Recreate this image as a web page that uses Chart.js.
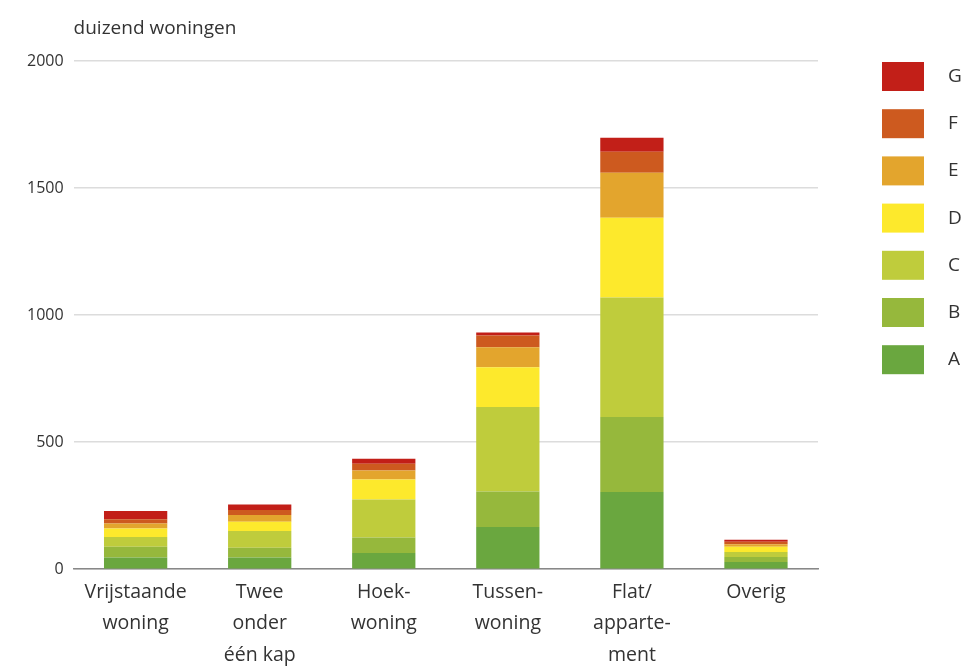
<!DOCTYPE html>
<html>
<head>
<meta charset="utf-8">
<script src="https://cdn.jsdelivr.net/npm/chart.js@4"></script>
<style>
  html, body { margin: 0; padding: 0; background: #fff; }
  #wrap { width: 967px; height: 669px; position: relative; }
</style>
</head>
<body>
<div id="wrap"><canvas id="c" width="967" height="669"></canvas></div>
<script>
const categories = [
  ["Vrijstaande", "woning"],
  ["Twee", "onder", "één kap"],
  ["Hoek-", "woning"],
  ["Tussen-", "woning"],
  ["Flat/", "apparte-", "ment"],
  ["Overig"]
];
const labelA = [46, 46, 64, 166, 304, 28];
const labelB = [42, 39, 61, 140, 295, 20];
const labelC = [39, 65, 149, 332, 470, 20];
const labelD = [33, 37, 79, 157, 314, 20];
const labelE = [20, 26, 36, 79, 177, 10];
const labelF = [17, 20, 26, 46, 83, 10];
const labelG = [32, 22, 20, 12, 55, 8];
const seriesNames = ["A", "B", "C", "D", "E", "F", "G"];
const seriesValues = [labelA, labelB, labelC, labelD, labelE, labelF, labelG];
const seriesColors = ["#6aa73f", "#96b83c", "#bfcc3c", "#fde92c", "#e3a52d", "#cd5a1f", "#c21f18"];
const yTicks = [0, 500, 1000, 1500, 2000];
const unitTitle = "duizend woningen";

const FONT = "'Open Sans', 'Noto Sans', sans-serif";

const extras = {
  id: 'extras',
  afterDraw(chart) {
    const ctx = chart.ctx;
    const area = chart.chartArea;
    ctx.save();
    ctx.fillStyle = '#333';
    ctx.font = "19px " + FONT;
    ctx.textAlign = 'left';
    ctx.textBaseline = 'middle';
    ctx.fillText(unitTitle, area.left, 29);
    const ds = chart.data.datasets;
    const bx = 882, bw = 42, bh = 29, step = 47.2, y0 = 62;
    ctx.font = "19px " + FONT;
    for (let i = 0; i < ds.length; i++) {
      const d = ds[ds.length - 1 - i];
      const y = y0 + i * step;
      ctx.fillStyle = d.backgroundColor;
      ctx.fillRect(bx, y, bw, bh);
      ctx.fillStyle = '#333';
      ctx.fillText(d.label, 948, y + bh / 2);
    }
    ctx.restore();
  }
};

new Chart(document.getElementById('c'), {
  type: 'bar',
  data: {
    labels: categories,
    datasets: seriesNames.map((n, i) => ({
      label: n,
      data: seriesValues[i],
      backgroundColor: seriesColors[i],
      borderWidth: 0,
      barPercentage: 0.51,
      categoryPercentage: 1.0
    }))
  },
  options: {
    responsive: false,
    animation: false,
    devicePixelRatio: 1,
    layout: { padding: { top: 61, right: 149, left: 17, bottom: -9 } },
    plugins: {
      legend: { display: false },
      tooltip: { enabled: false }
    },
    scales: {
      x: {
        stacked: true,
        grid: { display: false, drawTicks: false },
        border: { display: true, color: '#888', width: 1.5 },
        ticks: {
          color: '#333',
          font: { family: FONT, size: 19.5, lineHeight: 1.62 },
          padding: 7,
          maxRotation: 0,
          autoSkip: false
        }
      },
      y: {
        stacked: true,
        min: 0,
        max: 2000,
        afterBuildTicks(axis) { axis.ticks = yTicks.map(v => ({ value: v })); },
        grid: { color: '#dcdcdc', lineWidth: 1.5, drawTicks: false },
        border: { display: false },
        ticks: {
          color: '#333',
          font: { family: FONT, size: 16 },
          padding: 10,
          callback: (v) => String(v)
        }
      }
    }
  },
  plugins: [extras]
});
</script>
</body>
</html>
